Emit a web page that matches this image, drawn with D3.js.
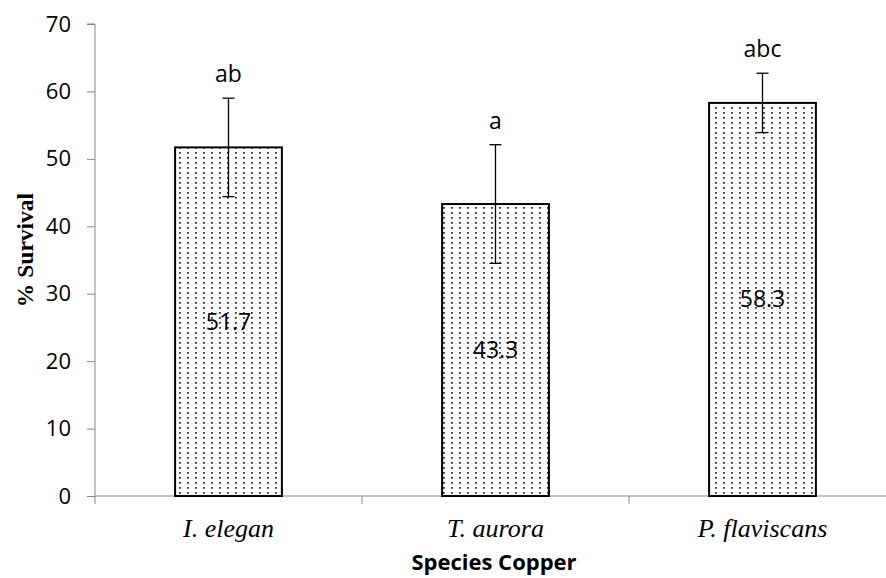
<!DOCTYPE html>
<html>
<head>
<meta charset="utf-8">
<script src="https://cdn.jsdelivr.net/npm/d3@7"></script>
<style>
  html, body { margin: 0; padding: 0; background: #fff; }
  svg { display: block; }
</style>
</head>
<body>
<script>
const categories = ["I. elegan", "T. aurora", "P. flaviscans"];
const values = [51.7, 43.3, 58.3];
const errors = [7.3, 8.8, 4.4];
const letters = ["ab", "a", "abc"];
const yTicks = [0, 10, 20, 30, 40, 50, 60, 70];

const W = 886, H = 578;
const svg = d3.select("body").append("svg").attr("width", W).attr("height", H);

const defs = svg.append("defs");
const pat = defs.append("pattern").attr("id", "dots")
  .attr("patternUnits", "userSpaceOnUse").attr("width", 8).attr("height", 5);
pat.append("rect").attr("width", 8).attr("height", 5).attr("fill", "#fff");
pat.append("rect").attr("x", 3).attr("y", 2).attr("width", 1.8).attr("height", 1.8).attr("fill", "#333");

const x = d3.scaleBand().domain(categories).range([95, 896]).paddingInner(0.6).paddingOuter(0.3);
const y = d3.scaleLinear().domain([0, 70]).range([496, 24]);

const sans = "'Open Sans', sans-serif";
const serif = "'Liberation Serif', 'Times New Roman', serif";

// Y axis
const yAxis = svg.append("g").attr("transform", "translate(95,0)")
  .call(d3.axisLeft(y).tickValues(yTicks).tickSize(8).tickPadding(16).tickFormat(d3.format("d")));
yAxis.select(".domain").attr("stroke", "#888").attr("d", `M-8,${y(70)}H0V${y(0)}`);
yAxis.selectAll(".tick line").attr("stroke", "#888");
yAxis.selectAll(".tick text").attr("font-family", sans).attr("font-size", 22).attr("fill", "#000");

// X axis line and boundary ticks
const step = x.step();
const boundaries = d3.range(categories.length + 1).map(i => 95 + i * step);
svg.append("line").attr("x1", 95).attr("x2", 896).attr("y1", y(0)).attr("y2", y(0))
  .attr("stroke", "#888").attr("stroke-width", 1);
svg.selectAll(".xb").data(boundaries).join("line")
  .attr("x1", d => d).attr("x2", d => d).attr("y1", y(0)).attr("y2", y(0) + 8)
  .attr("stroke", "#888");

// Bars
svg.selectAll(".bar").data(categories).join("rect")
  .attr("x", d => x(d)).attr("width", x.bandwidth())
  .attr("y", (d, i) => y(values[i])).attr("height", (d, i) => y(0) - y(values[i]))
  .attr("fill", "url(#dots)").attr("stroke", "#000").attr("stroke-width", 2);

// Error bars
const cap = 6;
categories.forEach((c, i) => {
  const cx = x(c) + x.bandwidth() / 2;
  const top = y(values[i] + errors[i]), bot = y(values[i] - errors[i]);
  const g = svg.append("g").attr("stroke", "#000").attr("stroke-width", 1.3);
  g.append("line").attr("x1", cx).attr("x2", cx).attr("y1", top).attr("y2", bot);
  g.append("line").attr("x1", cx - cap).attr("x2", cx + cap).attr("y1", top).attr("y2", top);
  g.append("line").attr("x1", cx - cap).attr("x2", cx + cap).attr("y1", bot).attr("y2", bot);
  svg.append("text").attr("x", cx).attr("y", top - 16).attr("text-anchor", "middle")
    .attr("font-family", sans).attr("font-size", 23).attr("fill", "#000").text(letters[i]);
  svg.append("text").attr("x", cx).attr("y", y(values[i] / 2)).attr("dy", "0.35em")
    .attr("text-anchor", "middle").attr("font-family", sans).attr("font-size", 23)
    .attr("fill", "#000").text(values[i].toFixed(1));
  svg.append("text").attr("x", cx).attr("y", 537).attr("text-anchor", "middle")
    .attr("font-family", serif).attr("font-style", "italic").attr("font-size", 26)
    .attr("fill", "#000").text(c);
});

// Axis titles
svg.append("text").attr("transform", `translate(33,250) rotate(-90)`).attr("text-anchor", "middle")
  .attr("font-family", serif).attr("font-weight", "bold").attr("font-size", 23.5).attr("fill", "#000")
  .text("% Survival");
svg.append("text").attr("x", 494).attr("y", 570).attr("text-anchor", "middle")
  .attr("font-family", sans).attr("font-weight", "bold").attr("font-size", 22).attr("fill", "#000")
  .text("Species Copper");
</script>
</body>
</html>
